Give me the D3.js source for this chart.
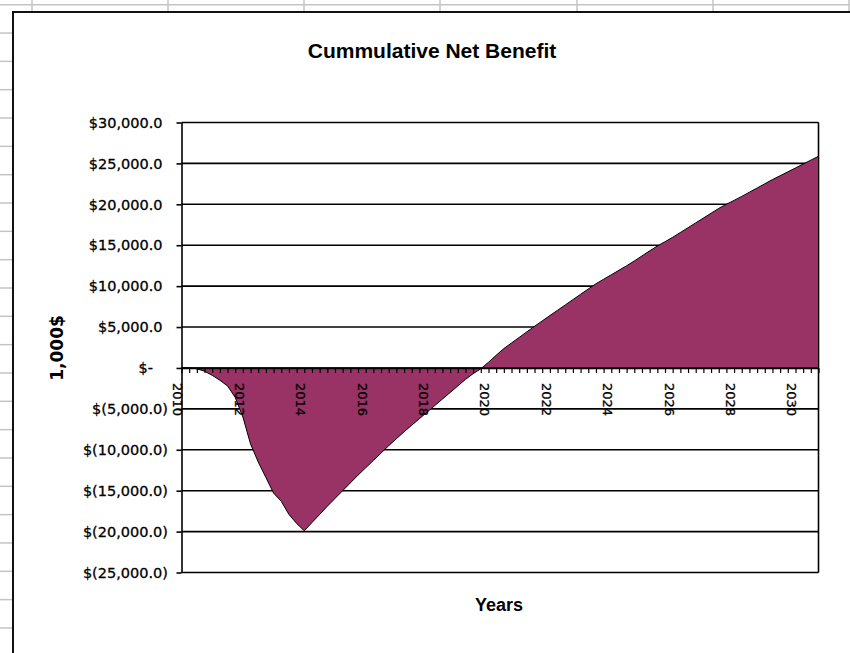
<!DOCTYPE html>
<html>
<head>
<meta charset="utf-8">
<script src="https://cdn.jsdelivr.net/npm/d3@7"></script>
<style>
  html, body { margin: 0; padding: 0; background: #fff; }
  svg { display: block; }
</style>
</head>
<body>
<div id="chart"></div>
<script>
// Cumulative net benefit, quarterly, in thousands of dollars
const years = [2010, 2011, 2012, 2013, 2014, 2015, 2016, 2017, 2018, 2019, 2020,
               2021, 2022, 2023, 2024, 2025, 2026, 2027, 2028, 2029, 2030];
const netBenefit = [
  0, 0, -100, -400,                 // 2010
  -900, -1500, -2200, -3600,        // 2011
  -6000, -9300, -11500, -13400,     // 2012
  -15300, -16300, -17900, -19000,   // 2013
  -19900, -18900, -17900, -16900,   // 2014
  -15950, -15000, -14050, -13100,   // 2015
  -12200, -11300, -10400, -9500,    // 2016
  -8650, -7800, -7000, -6200,       // 2017
  -5400, -4600, -3800, -3000,       // 2018
  -2200, -1400, -700, -100,         // 2019
  700, 1550, 2370, 3050,            // 2020
  3730, 4410, 5090, 5750,           // 2021
  6400, 7050, 7700, 8350,           // 2022
  9000, 9650, 10290, 10840,         // 2023
  11390, 11940, 12490, 13080,       // 2024
  13690, 14310, 14900, 15430,       // 2025
  15970, 16550, 17140, 17730,       // 2026
  18320, 18910, 19500, 20010,       // 2027
  20480, 20970, 21480, 21990,       // 2028
  22510, 23020, 23490, 23970,       // 2029
  24440, 24920, 25400, 25870        // 2030
];
const yTicks = [30000, 25000, 20000, 15000, 10000, 5000, 0, -5000, -10000, -15000, -20000, -25000];
const labelEvery = 8; // one label every two years

// category label for each quarter is its year
const categories = years.flatMap(y => [y, y, y, y]);

const W = 850, H = 653;
const CFG = {
  plotLeft: 181.5, plotRight: 818.5,
  plotTop: 122.5, plotBottom: 572.5,
  fill: '#993366',
  axisFont: '"DejaVu Sans", Verdana, sans-serif',
  titleFont: '"Liberation Sans", Arial, Helvetica, sans-serif',
};

const svg = d3.select('#chart').append('svg')
  .attr('width', W).attr('height', H)
  .attr('viewBox', `0 0 ${W} ${H}`);

svg.append('rect').attr('width', W).attr('height', H).attr('fill', '#fff');

// spreadsheet cells peeking out behind the chart
const sheet = svg.append('g').attr('stroke', '#c4c4c4').attr('stroke-width', 1.5);
for (let y = 4.7; y < H; y += 28.33) {
  sheet.append('line').attr('x1', 0).attr('x2', y < 12 ? W : 12).attr('y1', y).attr('y2', y);
}
[32, 168, 304, 440, 577, 713, 849].forEach(x => {
  sheet.append('line').attr('x1', x).attr('x2', x).attr('y1', 0).attr('y2', 12);
});

// chart area
svg.append('rect')
  .attr('x', 13).attr('y', 12).attr('width', W).attr('height', H)
  .attr('fill', '#fff').attr('stroke', '#111').attr('stroke-width', 2);

const x = d3.scaleLinear()
  .domain([0, netBenefit.length - 1])
  .range([CFG.plotLeft, CFG.plotRight]);
const y = d3.scaleLinear()
  .domain([-25000, 30000])
  .range([CFG.plotBottom, CFG.plotTop]);

// horizontal gridlines
svg.append('g').selectAll('line').data(yTicks).join('line')
  .attr('x1', CFG.plotLeft).attr('x2', CFG.plotRight)
  .attr('y1', d => y(d)).attr('y2', d => y(d))
  .attr('stroke', '#000').attr('stroke-width', 1.6);

// plot area border (right side)
svg.append('line')
  .attr('x1', CFG.plotRight).attr('x2', CFG.plotRight)
  .attr('y1', CFG.plotTop).attr('y2', CFG.plotBottom)
  .attr('stroke', '#000').attr('stroke-width', 1.6);

// area
const area = d3.area()
  .x((d, i) => x(i))
  .y0(y(0))
  .y1(d => y(d));
svg.append('path')
  .datum(netBenefit)
  .attr('d', area)
  .attr('fill', CFG.fill)
  .attr('stroke', '#000').attr('stroke-width', 1);

// x axis along zero, ticks hanging below every quarter
const xAxis = d3.axisBottom(x)
  .tickValues(d3.range(netBenefit.length))
  .tickSize(5)
  .tickSizeOuter(0)
  .tickFormat('');
const gx = svg.append('g')
  .attr('transform', `translate(0,${y(0)})`)
  .call(xAxis);
gx.select('.domain').attr('stroke', '#000').attr('stroke-width', 1.6);
gx.selectAll('.tick line').attr('stroke', '#000').attr('stroke-width', 1.2);

// rotated year labels
svg.append('g').selectAll('text')
  .data(categories.map((c, i) => ({ c, i })).filter(d => d.i % labelEvery === 0))
  .join('text')
  .attr('transform', d => `translate(${x(d.i) - 3.5},${y(0) + 15}) rotate(90)`)
  .attr('dy', '0.35em')
  .attr('font-family', CFG.axisFont)
  .attr('font-size', 13)
  .attr('fill', '#000')
  .attr('stroke', '#000').attr('stroke-width', 0.3)
  .text(d => d.c);

// y axis
const fmt = d3.format(',.1f');
const yLabel = v => v > 0 ? '$' + fmt(v) : v < 0 ? '$(' + fmt(-v) + ')' : '$-';
const yAxis = d3.axisLeft(y)
  .tickValues(yTicks)
  .tickSize(5)
  .tickSizeOuter(0)
  .tickFormat('');
const gy = svg.append('g')
  .attr('transform', `translate(${CFG.plotLeft},0)`)
  .call(yAxis);
gy.select('.domain').attr('stroke', '#000').attr('stroke-width', 1.6);
gy.selectAll('.tick line').attr('stroke', '#000').attr('stroke-width', 1.6);

svg.append('g').selectAll('text').data(yTicks).join('text')
  .attr('x', d => d > 0 ? 162.5 : d < 0 ? 168 : 153)
  .attr('y', d => y(d))
  .attr('dy', '0.36em')
  .attr('text-anchor', 'end')
  .attr('font-family', CFG.axisFont)
  .attr('font-size', 14.5)
  .attr('fill', '#000')
  .attr('stroke', '#000').attr('stroke-width', 0.3)
  .text(yLabel);

// titles
svg.append('text')
  .attr('x', 432).attr('y', 58)
  .attr('text-anchor', 'middle')
  .attr('font-family', CFG.titleFont)
  .attr('font-size', 21).attr('font-weight', 'bold')
  .text('Cummulative Net Benefit');

svg.append('text')
  .attr('x', 499).attr('y', 611)
  .attr('text-anchor', 'middle')
  .attr('font-family', CFG.titleFont)
  .attr('font-size', 18).attr('font-weight', 'bold')
  .text('Years');

svg.append('text')
  .attr('transform', `translate(63,348) rotate(-90)`)
  .attr('text-anchor', 'middle')
  .attr('font-family', CFG.axisFont)
  .attr('font-size', 17).attr('font-weight', 'bold')
  .text('1,000$');
</script>
</body>
</html>
